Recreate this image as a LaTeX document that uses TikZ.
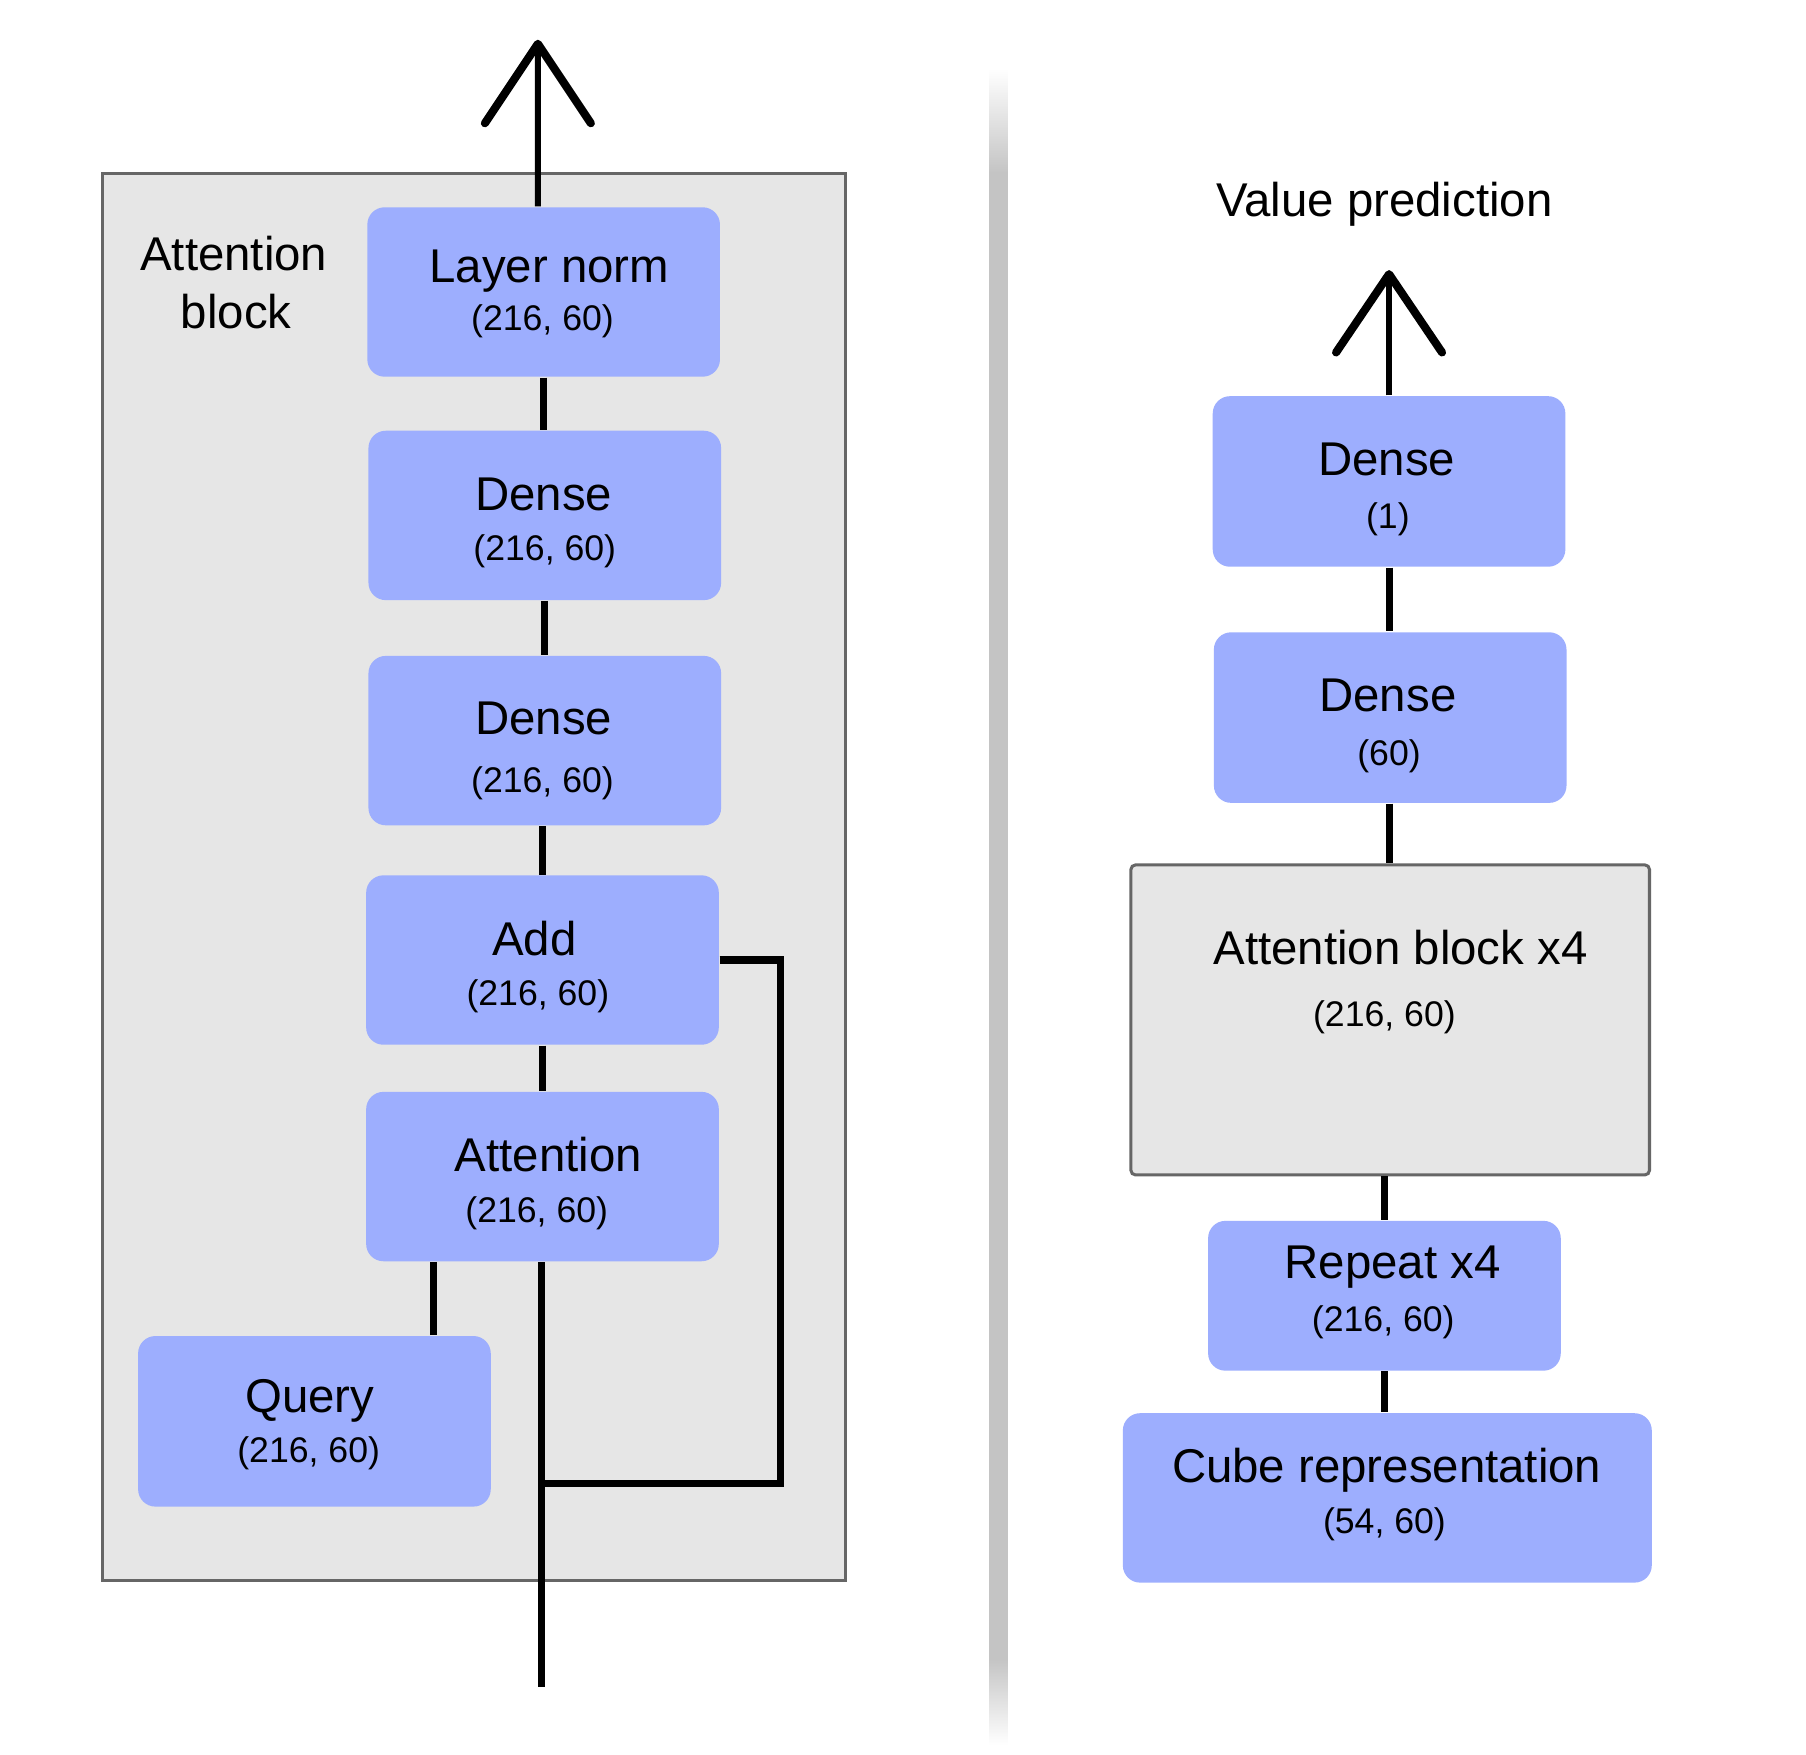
\documentclass[tikz,border=0pt]{standalone}
\usepackage{fontspec}
\setmainfont{Liberation Sans}
\definecolor{boxblue}{HTML}{9DAEFE}
\definecolor{panel}{HTML}{E6E6E6}
\definecolor{edge}{HTML}{666666}
\definecolor{sepgray}{HTML}{C4C4C4}
\begin{document}
\begin{tikzpicture}[x=0.01cm,y=-0.01cm,
  blk/.style={fill=boxblue, rounded corners=0.15cm, inner sep=0pt, minimum width=3.06cm, minimum height=1.47cm},
  graybox/.style={fill=panel, draw=edge, line width=0.75pt, inner sep=0pt},
  bigtxt/.style={font=\fontsize{11.7}{14}\selectfont, inner sep=0pt, anchor=base},
  smalltxt/.style={font=\fontsize{8.8}{10}\selectfont, inner sep=0pt, anchor=base},
  conn/.style={line width=1.75pt, black},
  arrhead/.style={line width=2pt, line cap=round, line join=round},
  shaft/.style={line width=1.5pt}]
\useasboundingbox (0,0) rectangle (1568,1523);
\fill[white] (0,0) rectangle (1568,1523);

% ---------- left panel ----------
\node[graybox, draw, minimum width=6.45cm, minimum height=12.21cm] (panel) at (411.5,761.5) {};
\node[bigtxt] (ablabel1) at (203,235) {Attention};
\node[bigtxt] (ablabel2) at (205,285) {block};

\node[blk] (ln)  at (472,253.5) {};
\node[blk] (d1)  at (473,447.5) {};
\node[blk] (d2)  at (473,643) {};
\node[blk] (add) at (471,833.5) {};
\node[blk] (att) at (471,1021.5) {};
\node[blk, minimum height=1.48cm] (q) at (273,1234) {};

\node[bigtxt]   at (477,245) {Layer norm};
\node[smalltxt] at (471,287) {(216, 60)};
\node[bigtxt]   at (472,443) {Dense};
\node[smalltxt] at (473,487) {(216, 60)};
\node[bigtxt]   at (472,638) {Dense};
\node[smalltxt] at (471,688) {(216, 60)};
\node[bigtxt]   at (464,830) {Add};
\node[smalltxt] at (467,873) {(216, 60)};
\node[bigtxt]   at (476,1017) {Attention};
\node[smalltxt] at (466,1061) {(216, 60)};
\node[bigtxt]   at (269,1226) {Query};
\node[smalltxt] at (268,1270) {(216, 60)};

\draw[conn] (ln.south) -- (ln.south |- d1.north);
\draw[conn] (d1.south) -- (d1.south |- d2.north);
\draw[conn] ([xshift=-0.02cm]d2.south) -- ([xshift=-0.02cm]d2.south |- add.north);
\draw[conn] (add.south) -- (add.south |- att.north);
\draw[conn] ([xshift=1.03cm]q.north) -- ([xshift=1.03cm]q.north |- att.south);
\coordinate (inbot) at (470,1465);
\coordinate (skip) at (678,1288);
\draw[conn] ([xshift=-0.01cm]att.south) -- (inbot);
\draw[conn] (add.east) -| (skip) -- (skip -| inbot);

\coordinate (tipL) at (467,38);
\draw[shaft] ([xshift=-0.05cm]ln.north) -- (tipL);
\draw[arrhead] (421,107) -- (tipL) -- (513,107);

% ---------- separator ----------
\shade[top color=white, bottom color=sepgray] (859,60) rectangle (875,150);
\fill[sepgray] (859,149.5) rectangle (875,1440.5);
\shade[top color=sepgray, bottom color=white] (859,1440) rectangle (875,1515);

% ---------- right panel ----------
\node[bigtxt] (vp) at (1202,188) {Value prediction};

\node[blk, minimum height=1.48cm] (vd1) at (1206,418) {};
\node[blk, minimum height=1.48cm] (vd2) at (1207,623) {};
\node[graybox, rounded corners=0.04cm, minimum width=4.5cm, minimum height=2.69cm] (ab4) at (1207,885.5) {};
\node[blk, minimum height=1.30cm] (rep) at (1202,1125) {};
\node[blk, minimum width=4.59cm] (cube) at (1204.5,1300.5) {};

\node[bigtxt]   at (1204,413) {Dense};
\node[smalltxt] at (1205,459) {(1)};
\node[bigtxt]   at (1205,618) {Dense};
\node[smalltxt] at (1206,665) {(60)};
\node[bigtxt]   at (1216,837) {Attention block x4};
\node[smalltxt] at (1202,891) {(216, 60)};
\node[bigtxt]   at (1209,1110) {Repeat x4};
\node[smalltxt] at (1201,1156) {(216, 60)};
\node[bigtxt]   at (1204,1287) {Cube representation};
\node[smalltxt] at (1202,1331) {(54, 60)};

\draw[conn] (vd1.south) -- (vd1.south |- vd2.north);
\draw[conn] ([xshift=-0.01cm]vd2.south) -- ([xshift=-0.01cm]vd2.south |- ab4.north);
\draw[conn] (rep.north |- ab4.south) -- (rep.north);
\draw[conn] (rep.south) -- (rep.south |- cube.north);

\coordinate (tipR) at (1206,238);
\draw[shaft] (vd1.north) -- (tipR);
\draw[arrhead] (1160,306) -- (tipR) -- (1252,306);
\end{tikzpicture}
\end{document}
